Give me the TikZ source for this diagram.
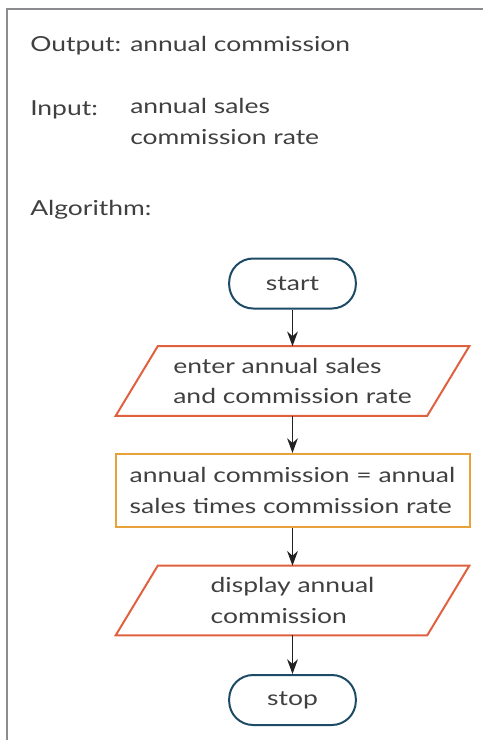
\documentclass[tikz,border=0pt]{standalone}
\usepackage{fontspec}
\setmainfont{Lato}[FakeStretch=1.28]
\usetikzlibrary{arrows.meta,calc}
\definecolor{txt}{HTML}{404040}
\definecolor{termc}{HTML}{1D4B66}
\definecolor{ioc}{HTML}{E0613F}
\definecolor{procc}{HTML}{E9A23A}
\definecolor{framec}{HTML}{8C8C90}
\definecolor{arrc}{HTML}{222222}
\begin{document}
\begin{tikzpicture}[x=0.75pt,y=-0.75pt,
  every node/.style={font=\fontsize{15.5}{23}\selectfont, text=txt, inner sep=0pt},
  label/.style={anchor=base west},
  term/.style={draw=termc, line width=1.5pt, rounded corners=18pt, minimum width=95pt, minimum height=37.5pt},
  iobox/.style={minimum width=233.25pt, minimum height=51.75pt, align=left},
  ioline/.style={draw=ioc, line width=1.5pt, line join=miter},
  proc/.style={draw=procc, line width=1.5pt, minimum width=265.5pt, minimum height=54.75pt, align=left},
  arr/.style={draw=arrc, line width=1.4pt, -{Stealth[length=11pt,width=8pt,inset=3.5pt]}},
  frame/.style={draw=framec, line width=1.5pt}
]
\useasboundingbox (0,0) rectangle (483,740);
\coordinate (fb) at (7,740);
\coordinate (fc) at (7,9);
\coordinate (fr) at (483,9);
\draw[frame] (fb) -- (fc) -- (fr);

\node[label] (outl) at (30,51) {Output:};
\node[label] (outv) at (130,51) {annual commission};
\node[label] (inl) at (30,115) {Input:};
\node[label, align=left, anchor=north west] (inv) at (130,98) {annual sales\\commission rate};
\node[label] (alg) at (30,215) {Algorithm:};

\node[term] (start) at (292.5,283.5) {start};
\node[iobox] (enter) at (292.5,381) {enter annual sales\\and commission rate};
\node[proc] (calc) at (292.5,490.5) {annual commission = annual\\sales times commission rate};
\node[iobox] (disp) at (292.5,600.5) {display annual\\commission};
\node[term] (stop) at (292.5,700) {stop};

\draw[ioline] ($(enter.north west)+(21,0)$) -- ($(enter.north east)+(21,0)$) -- ($(enter.south east)-(21,0)$) -- ($(enter.south west)-(21,0)$) -- cycle;
\draw[ioline] ($(disp.north west)+(21,0)$) -- ($(disp.north east)+(21,0)$) -- ($(disp.south east)-(21,0)$) -- ($(disp.south west)-(21,0)$) -- cycle;

\draw[arr] (start.south) -- (enter.north);
\draw[arr] (enter.south) -- (calc.north);
\draw[arr] (calc.south) -- (disp.north);
\draw[arr] (disp.south) -- (stop.north);
\end{tikzpicture}
\end{document}
